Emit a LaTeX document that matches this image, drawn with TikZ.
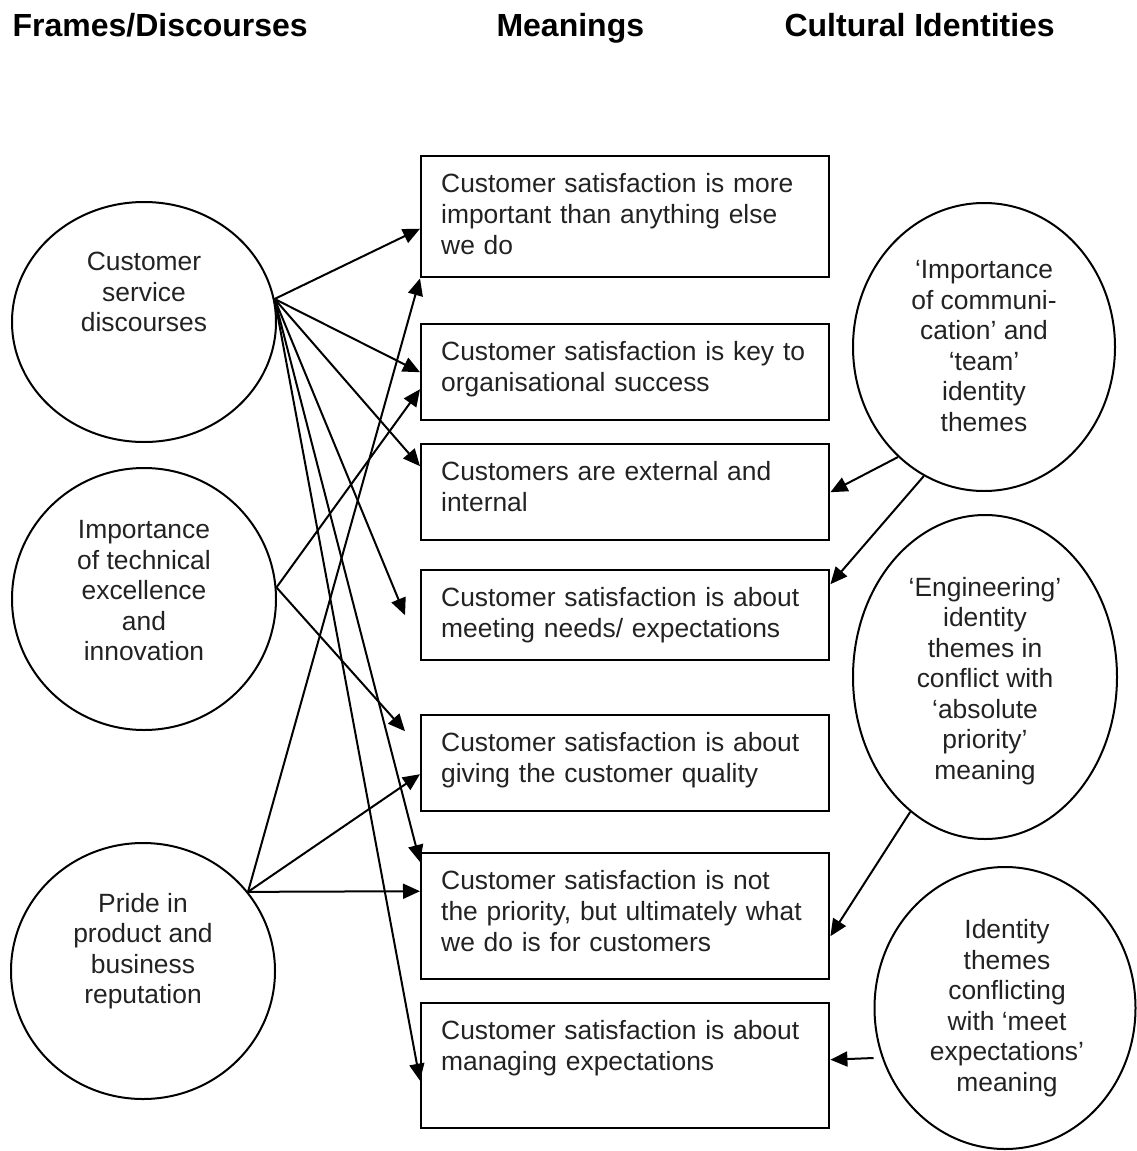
\documentclass[tikz,border=0pt]{standalone}
\usepackage{fontspec}
\setmainfont{Liberation Sans}
\usetikzlibrary{shapes.geometric,arrows.meta}
\definecolor{inkgray}{HTML}{222222}
\tikzset{
  colhead/.style={anchor=base west, font=\fontsize{32}{36}\selectfont\bfseries},
  discourse/.style={draw, ellipse, line width=2pt, inner sep=0pt, minimum width=264pt, minimum height=#1},
  meaning/.style={draw, line width=2.4pt, anchor=north west, align=left, text=inkgray,
    text width=368pt, inner xsep=20pt, inner ysep=17pt, text height=19pt, text depth=#1,
    font=\fontsize{26.4}{31}\selectfont},
  theme/.style={align=center, text=inkgray, font=\fontsize{26.4}{30.5}\selectfont},
  link/.style={-{Triangle[length=17pt,width=15pt]}, line width=2pt}
}
\begin{document}
\begin{tikzpicture}[x=1pt,y=-1pt]
	\useasboundingbox (0,0) rectangle (1136,1151);
	% column titles
	\node[colhead] (h1) at (9,36) {Frames/Discourses};
	\node[colhead] (h2) at (493,36) {Meanings};
	\node[colhead] (h3) at (781,36) {Cultural Identities};
	
	% frames / discourses
	\node[discourse=240pt] (c1) at (144,322) {};
	\node[theme] (t1) at (144,292) {Customer\\service\\discourses};
	\node[discourse=262pt] (c2) at (144,599) {};
	\node[theme] (t2) at (144,591) {Importance\\of technical\\excellence\\and\\innovation};
	\node[discourse=256pt] (c3) at (143,971) {};
	\node[theme] (t3) at (143,951) {Pride in\\product and\\business\\reputation};
	
	% meanings
	\node[meaning=68pt] (m1) at (420,155) {Customer satisfaction is more\\important than anything else\\we do};
	\node[meaning=43pt] (m2) at (420,323) {Customer satisfaction is key to\\organisational success};
	\node[meaning=43pt] (m3) at (420,443) {Customers are external and\\internal};
	\node[meaning=37pt] (m4) at (420,569) {Customer satisfaction is about\\meeting needs/ expectations};
	\node[meaning=43pt] (m5) at (420,714) {Customer satisfaction is about\\giving the customer quality};
	\node[meaning=73pt] (m6) at (420,852) {Customer satisfaction is not\\the priority, but ultimately what\\we do is for customers};
	\node[meaning=72pt] (m7) at (420,1002) {Customer satisfaction is about\\managing expectations};
	
	% cultural identities
	\node[discourse=288pt, minimum width=262pt] (e1) at (984,347) {};
	\node[theme] (u1) at (984,346) {‘Importance\\of communi-\\cation’ and\\‘team’\\identity\\themes};
	\node[discourse=324pt] (e2) at (985,677) {};
	\node[theme] (u2) at (985,681) {‘Engineering’\\identity\\themes in\\conflict with\\‘absolute\\priority’\\meaning};
	\node[discourse=282pt, minimum width=261pt] (e3) at (1005,1008) {};
	\node[theme] (u3) at (1007,1008) {Identity\\themes\\conflicting\\with ‘meet\\expectations’\\meaning};
	
	% loose arrow ends
	\coordinate (n4) at ([xshift=-15pt]m4.west);
	\coordinate (n5) at ([xshift=-15pt,yshift=32pt]m5.west);
	
	\draw[link] (c1.10) -- ([yshift=-12pt]m1.west);
	\draw[link] (c1.10) -- (m2.west);
	\draw[link] (c1.10) -- ([yshift=26pt]m3.west);
	\draw[link] (c1.10) -- (n4);
	\draw[link] (c1.10) -- ([yshift=-10pt]m6.north west);
	\draw[link] (c1.10) -- ([yshift=-15pt]m7.west);
	\draw[link] (c2.5) -- ([yshift=-17pt]m2.west);
	\draw[link] (c2.5) -- (n5);
	\draw[link] (c3.37) -- (m1.south west);
	\draw[link] (c3.37) -- ([yshift=-11pt]m5.west);
	\draw[link] (c3.37) -- ([yshift=25pt]m6.west);
	\draw[link] (e1.232) -- (m3.east);
	\draw[link] (e1.245) -- ([yshift=31pt]m4.east);
	\draw[link] (e2.241) -- ([yshift=-20pt]m6.east);
	\draw[link] ([yshift=-50pt]e3.west) -- ([yshift=6pt]m7.east);
	
\end{tikzpicture}
\end{document}
